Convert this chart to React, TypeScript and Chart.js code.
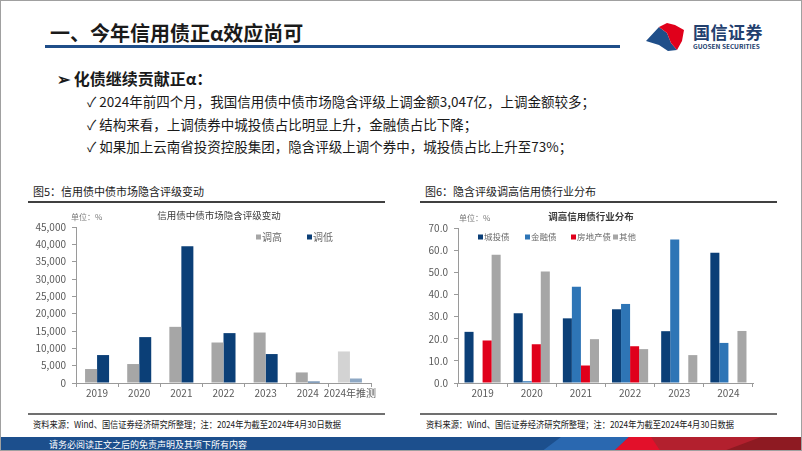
import React, { useEffect, useRef } from 'react';
import { Chart, registerables } from 'chart.js';

Chart.register(...registerables);

// ---------- Chart 1 data ----------
const years1 = ['2019', '2020', '2021', '2022', '2023', '2024', '2024年推测'];
const upgradeValues = [4030, 5470, 16200, 11680, 14560, 3047, 9100];
const downgradeValues = [8060, 13240, 39420, 14390, 8350, 400, 1300];
const seriesNames1 = ['调高', '调低'];

// ---------- Chart 2 data ----------
const years2 = ['2019', '2020', '2021', '2022', '2023', '2024'];
const chengtouValues = [23.1, 31.5, 29.2, 33.3, 23.4, 58.8];
const jinrongValues = [0.2, 0.8, 43.5, 35.7, 64.8, 18.1];
const fangdichanValues = [19.2, 17.5, 7.9, 16.6, 0, 0];
const qitaValues = [57.9, 50.4, 19.8, 15.3, 12.6, 23.5];
const seriesNames2 = ['城投债', '金融债', '房地产债', '其他'];

const FONT = "'Noto Sans CJK SC', 'Noto Sans', sans-serif";

const overlayPlugin = {
  id: 'overlay',
  afterDraw(chart: any, _args: any, opts: any) {
    const ctx = chart.ctx;
    ctx.save();
    ctx.textBaseline = 'middle';
    // title
    ctx.font = `${opts.titleWeight || 'normal'} ${opts.titleSize}px ${FONT}`;
    ctx.fillStyle = '#3a3a3a';
    ctx.textAlign = 'center';
    ctx.fillText(opts.title, opts.titleX, opts.titleY);
    // unit
    ctx.font = `8px ${FONT}`;
    ctx.fillStyle = '#7a7a7a';
    ctx.textAlign = 'left';
    ctx.fillText(opts.unit, opts.unitX, opts.unitY);
    // legend
    ctx.font = `${opts.legendSize}px ${FONT}`;
    chart.data.datasets.forEach((ds: any, i: number) => {
      const x = opts.legendX[i];
      const y = opts.legendY;
      const c = Array.isArray(ds.backgroundColor) ? ds.backgroundColor[0] : ds.backgroundColor;
      ctx.fillStyle = c;
      ctx.fillRect(x, y - 2.5, 5, 5);
      ctx.fillStyle = '#6a6a6a';
      ctx.fillText(ds.label, x + 6, y);
    });
    ctx.restore();
  },
};

function axisStyle(leftWidth: number) {
  return {
    x: {
      grid: { display: true, drawOnChartArea: false, drawTicks: true, tickLength: 4, color: '#9a9a9a' },
      border: { display: true, color: '#9a9a9a' },
      ticks: { color: '#5a5a5a', font: { size: 10, family: FONT }, padding: 0, maxRotation: 0, autoSkip: false },
      afterFit: (s: any) => { s.height = 21; },
    },
    y: {
      grid: { display: true, drawOnChartArea: false, drawTicks: true, tickLength: 4, color: '#9a9a9a' },
      border: { display: true, color: '#9a9a9a' },
      ticks: { color: '#5a5a5a', font: { size: 10, family: FONT }, padding: 6 },
      afterFit: (s: any) => { s.width = leftWidth; },
    },
  };
}

function Chart1() {
  const ref = useRef<HTMLCanvasElement>(null);
  useEffect(() => {
    const base = axisStyle(55);
    const chart = new Chart(ref.current!, {
      type: 'bar',
      data: {
        labels: years1,
        datasets: [
          {
            label: seriesNames1[0],
            data: upgradeValues,
            backgroundColor: upgradeValues.map((_, i) => (i === upgradeValues.length - 1 ? '#d3d3d3' : '#a6a6a6')),
            categoryPercentage: 0.57,
            barPercentage: 1,
          },
          {
            label: seriesNames1[1],
            data: downgradeValues,
            backgroundColor: downgradeValues.map((_, i) => (i === downgradeValues.length - 1 ? '#8ea8c4' : '#0b3f77')),
            categoryPercentage: 0.57,
            barPercentage: 1,
          },
        ],
      },
      options: {
        animation: false,
        responsive: false,
        layout: { padding: { top: 23, right: 15, left: 0, bottom: 0 } },
        plugins: {
          legend: { display: false },
          tooltip: { enabled: false },
          overlay: {
            title: '信用债中债市场隐含评级变动', titleSize: 9.5, titleX: 198, titleY: 11,
            unit: '单位：%', unitX: 50, unitY: 12.5,
            legendX: [235, 286], legendY: 33, legendSize: 10,
          },
        } as any,
        scales: {
          x: base.x,
          y: {
            ...base.y,
            min: 0,
            max: 45000,
            ticks: {
              ...base.y.ticks,
              stepSize: 5000,
              callback: (v: any) => Number(v).toLocaleString('en-US'),
            },
          },
        } as any,
      },
      plugins: [overlayPlugin],
    });
    return () => chart.destroy();
  }, []);
  return <canvas ref={ref} width={365} height={200} style={{ position: 'absolute', left: 20, top: 203 }} />;
}

function Chart2() {
  const ref = useRef<HTMLCanvasElement>(null);
  useEffect(() => {
    const base = axisStyle(52);
    const mk = (label: string, data: number[], color: string) => ({
      label, data, backgroundColor: color, categoryPercentage: 0.735, barPercentage: 1,
    });
    const chart = new Chart(ref.current!, {
      type: 'bar',
      data: {
        labels: years2,
        datasets: [
          mk(seriesNames2[0], chengtouValues, '#0b3f77'),
          mk(seriesNames2[1], jinrongValues, '#2e75b6'),
          mk(seriesNames2[2], fangdichanValues, '#e0001b'),
          mk(seriesNames2[3], qitaValues, '#a6a6a6'),
        ],
      },
      options: {
        animation: false,
        responsive: false,
        layout: { padding: { top: 24, right: 18, left: 0, bottom: 0 } },
        plugins: {
          legend: { display: false },
          tooltip: { enabled: false },
          overlay: {
            title: '调高信用债行业分布', titleSize: 9.5, titleWeight: 'bold', titleX: 185, titleY: 12,
            unit: '单位：%', unitX: 53, unitY: 14,
            legendX: [72, 119, 165, 207], legendY: 33, legendSize: 8.5,
          },
        } as any,
        scales: {
          x: base.x,
          y: {
            ...base.y,
            min: 0,
            max: 70,
            ticks: {
              ...base.y.ticks,
              stepSize: 10,
              callback: (v: any) => Number(v).toFixed(1),
            },
          },
        } as any,
      },
      plugins: [overlayPlugin],
    });
    return () => chart.destroy();
  }, []);
  return <canvas ref={ref} width={365} height={200} style={{ position: 'absolute', left: 405, top: 203 }} />;
}

const abs = (s: React.CSSProperties): React.CSSProperties => ({ position: 'absolute', ...s });

const sourceText = '资料来源：Wind、国信证券经济研究所整理；注：2024年为截至2024年4月30日数据';

export default function App() {
  return (
    <div
      style={{
        position: 'fixed', left: 0, top: 0, width: 802, height: 451, background: '#fff',
        overflow: 'hidden', fontFamily: FONT, boxSizing: 'border-box', border: '1px solid #a0a0a0',
      }}
    >
      {/* Header */}
      <div style={abs({ left: 49, top: 19, fontSize: 20, fontWeight: 700, color: '#1a1a1a', whiteSpace: 'nowrap', lineHeight: '26px' })}>
        一、今年信用债正α效应尚可
      </div>
      <div style={abs({ left: 44, top: 44, width: 575, height: 3, background: '#1f4e89' })} />
      {/* Logo */}
      <svg style={abs({ left: 640, top: 18, overflow: 'visible' })} width={50} height={34}>
        <polygon points="5,22 18,8 26,14 30,24 36,31 27,32 18,26" fill="#1f4e89" />
        <polygon points="18,8 26,4 34,6 43,11 41,22 36,31 30,24 26,14" fill="#e0001b" />
      </svg>
      <div style={abs({ left: 692, top: 20, fontSize: 17, fontWeight: 700, color: '#23406e', letterSpacing: 0.5, lineHeight: '22px', whiteSpace: 'nowrap' })}>
        国信证券
      </div>
      <div style={abs({ left: 692, top: 41, fontSize: 6.5, fontWeight: 700, color: '#23406e', lineHeight: '8px', whiteSpace: 'nowrap' })}>
        GUOSEN SECURITIES
      </div>

      {/* Bullets */}
      <div style={abs({ left: 56, top: 66, fontSize: 16, fontWeight: 700, color: '#1a1a1a', whiteSpace: 'nowrap', lineHeight: '22px' })}>
        ➢ 化债继续贡献正α：
      </div>
      {[
        '2024年前四个月，我国信用债中债市场隐含评级上调金额3,047亿，上调金额较多；',
        '结构来看，上调债券中城投债占比明显上升，金融债占比下降；',
        '如果加上云南省投资控股集团，隐含评级上调个券中，城投债占比上升至73%；',
      ].map((t, i) => (
        <div
          key={i}
          style={abs({ left: 86, top: 91 + i * 22.5, fontSize: 13.5, color: '#1a1a1a', whiteSpace: 'nowrap', lineHeight: '18px' })}
        >
          ✓ {t}
        </div>
      ))}

      {/* Figure titles */}
      <div style={abs({ left: 32, top: 182, fontSize: 11, color: '#1a1a1a', whiteSpace: 'nowrap', lineHeight: '16px' })}>
        图5：信用债中债市场隐含评级变动
      </div>
      <div style={abs({ left: 27, top: 200, width: 357, height: 2, background: '#404040' })} />
      <div style={abs({ left: 424, top: 182, fontSize: 11, color: '#1a1a1a', whiteSpace: 'nowrap', lineHeight: '16px' })}>
        图6：隐含评级调高信用债行业分布
      </div>
      <div style={abs({ left: 419, top: 200, width: 357, height: 2, background: '#404040' })} />

      <Chart1 />
      <Chart2 />

      {/* Sources */}
      <div style={abs({ left: 27, top: 412, width: 357, height: 2, background: '#707070' })} />
      <div style={abs({ left: 419, top: 412, width: 357, height: 2, background: '#707070' })} />
      <div style={abs({ left: 32, top: 416, fontSize: 9.5, color: '#1a1a1a', whiteSpace: 'nowrap', lineHeight: '14px', transform: 'scaleX(0.865)', transformOrigin: 'left center' })}>
        {sourceText}
      </div>
      <div style={abs({ left: 425, top: 416, fontSize: 9.5, color: '#1a1a1a', whiteSpace: 'nowrap', lineHeight: '14px', transform: 'scaleX(0.865)', transformOrigin: 'left center' })}>
        {sourceText}
      </div>

      {/* Footer */}
      <svg style={abs({ left: 0, top: 436 })} width={802} height={15}>
        <rect x={0} y={0} width={802} height={15} fill="#1c4f8d" />
        <polygon points="560,0 640,0 620,15 540,15" fill="#2a68b0" />
        <polygon points="628,0 802,0 802,15 612,15" fill="#b3202e" />
        <polygon points="628,0 650,0 660,15 612,15" fill="#e3102a" />
        <polygon points="720,15 760,0 802,0 802,15" fill="#8e1a22" />
      </svg>
      <div style={abs({ left: 48, top: 437, fontSize: 9, color: '#ffffff', whiteSpace: 'nowrap', lineHeight: '13px' })}>
        请务必阅读正文之后的免责声明及其项下所有内容
      </div>
    </div>
  );
}
